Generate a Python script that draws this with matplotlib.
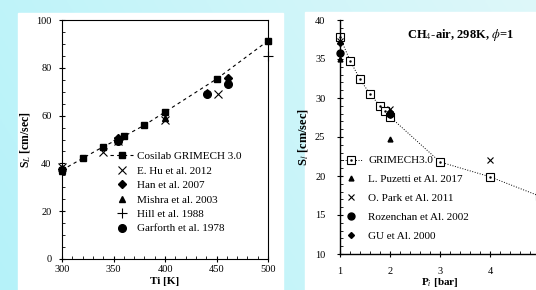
import numpy as np
import matplotlib.pyplot as plt
from matplotlib.patches import Rectangle
from matplotlib.legend_handler import HandlerTuple
from matplotlib.ticker import MultipleLocator

plt.rcParams['font.family'] = ['Liberation Serif', 'DejaVu Serif']
plt.rcParams['mathtext.fontset'] = 'stix'

# left panel: laminar flame speed vs initial temperature
t_sim = [300, 320, 340, 360, 380, 400, 450, 500]
sl_sim = [37.2, 42.1, 47.0, 51.3, 56.0, 61.5, 75.3, 91.3]
t_hu = [300, 340, 354, 400, 451]
sl_hu = [38.5, 44.8, 49.5, 58.3, 69.0]
t_han = [300, 354, 461]
sl_han = [37.5, 50.5, 75.9]
t_mishra = [300, 354, 400, 441]
sl_mishra = [37.0, 50.0, 59.0, 70.0]
t_hill = [354, 500]
sl_hill = [50.0, 84.8]
t_garforth = [354, 441, 461]
sl_garforth = [49.3, 69.0, 73.1]

# right panel: laminar flame speed vs initial pressure
p_sim = [1.0, 1.2, 1.4, 1.6, 1.8, 1.9, 2.0, 3.0, 4.0, 5.0]
s_sim = [37.8, 34.8, 32.4, 30.5, 29.0, 28.3, 27.6, 21.8, 19.9, 17.4]
p_puz = [1, 2]
s_puz = [35.0, 24.7]
p_park = [1, 2, 4]
s_park = [37.3, 28.6, 22.0]
p_roz = [1, 2]
s_roz = [35.8, 28.0]
p_gu = [1, 2]
s_gu = [37.0, 28.2]
p_ticks = [1, 2, 3, 4]

W, H = 536, 290
fig = plt.figure(figsize=(W / 100, H / 100), dpi=100)

# cyan gradient background
bg = fig.add_axes([0, 0, 1, 1], zorder=-10)
gx = np.linspace(0, 1, 200)
gy = np.linspace(0, 1, 100)
GX, GY = np.meshgrid(gx, gy)
c0 = np.array([0.71, 0.95, 0.98])
c1 = np.array([0.87, 0.97, 0.98])
mix = np.clip(0.75 * GX + 0.25 * (1 - GY), 0, 1)[..., None]
bg.imshow(c0 * (1 - mix) + c1 * mix, extent=[0, 1, 0, 1], aspect='auto', origin='upper')
bg.add_patch(Rectangle((18 / W, 0), (283 - 18) / W, (H - 13) / H, color='white', transform=bg.transAxes))
bg.add_patch(Rectangle((305 / W, 0), (W - 305) / W, (H - 12) / H, color='white', transform=bg.transAxes))
bg.set_xlim(0, 1)
bg.set_ylim(0, 1)
bg.axis('off')

# ---- left ----
ax1 = fig.add_axes([62 / W, 31 / H, 206 / W, 239 / H])
ax1.set_facecolor('white')
ax1.plot(t_sim, sl_sim, color='black', ls=(0, (3, 3)), lw=0.8, marker='s', ms=4,
         label='Cosilab GRIMECH 3.0', clip_on=False)
ax1.plot(t_hu, sl_hu, 'x', color='black', ms=6, mew=0.8, label='E. Hu et al. 2012', clip_on=False)
ax1.plot(t_han, sl_han, 'D', color='black', ms=4, label='Han et al. 2007', clip_on=False)
ax1.plot(t_mishra, sl_mishra, '^', color='black', ms=5, label='Mishra et al. 2003', clip_on=False)
ax1.plot(t_hill, sl_hill, '+', color='black', ms=7, mew=0.8, label='Hill et al. 1988', clip_on=False)
ax1.plot(t_garforth, sl_garforth, 'o', color='black', ms=5.5, label='Garforth et al. 1978',
         clip_on=False)
ax1.set_xlim(300, 500)
ax1.set_ylim(0, 100)
ax1.xaxis.set_major_locator(MultipleLocator(50))
ax1.xaxis.set_minor_locator(MultipleLocator(10))
ax1.yaxis.set_major_locator(MultipleLocator(20))
ax1.yaxis.set_minor_locator(MultipleLocator(5))
ax1.tick_params(which='major', direction='inout', length=5, width=0.8, labelsize=7.5, pad=2)
ax1.tick_params(which='minor', direction='in', length=2.5, width=0.6)
ax1.tick_params(axis='y', pad=5)
ax1.set_xlabel('Ti [K]', fontsize=8, fontweight='bold', labelpad=2)
ax1.set_ylabel('S$_L$ [cm/sec]', fontsize=8.5, fontweight='bold', labelpad=3)
for s in ax1.spines.values():
    s.set_linewidth(0.8)
ax1.legend(loc='upper left', bbox_to_anchor=(0.233, 0.45), frameon=False, fontsize=8,
           borderpad=0, borderaxespad=0, handlelength=2.1, handletextpad=0.35,
           labelspacing=0.42)

# ---- right ----
ax2 = fig.add_axes([340 / W, 36 / H, 200 / W, 234 / H])
ax2.set_facecolor('white')
l_sim, = ax2.plot(p_sim, s_sim, color='black', ls=':', lw=0.7, marker='s', ms=5.5,
                  mfc='white', mew=0.8, clip_on=False)
d_sim, = ax2.plot(p_sim, s_sim, '.', color='black', ms=1.5, clip_on=False)
h_puz, = ax2.plot(p_puz, s_puz, '^', color='black', ms=3.5, clip_on=False)
h_park, = ax2.plot(p_park, s_park, 'x', color='black', ms=4.5, mew=0.8, clip_on=False)
h_roz, = ax2.plot(p_roz, s_roz, 'o', color='black', ms=5, clip_on=False)
h_gu, = ax2.plot(p_gu, s_gu, 'D', color='black', ms=3, clip_on=False)
ax2.set_xlim(1, 5)
ax2.set_ylim(10, 40)
ax2.set_xticks(p_ticks)
ax2.xaxis.set_minor_locator(MultipleLocator(0.2))
ax2.yaxis.set_major_locator(MultipleLocator(5))
ax2.yaxis.set_minor_locator(MultipleLocator(1))
ax2.tick_params(which='major', direction='inout', length=5, width=0.8, labelsize=7.5)
ax2.tick_params(axis='x', pad=7)
ax2.tick_params(axis='y', pad=8)
ax2.tick_params(which='minor', direction='in', length=2.5, width=0.6)
ax2.spines['top'].set_visible(False)
ax2.spines['right'].set_visible(False)
for s in ('left', 'bottom'):
    ax2.spines[s].set_linewidth(1.0)
ax2.set_xlabel('P$_i$ [bar]', fontsize=8, fontweight='bold', labelpad=0)
ax2.set_ylabel('S$_l$ [cm/sec]', fontsize=9, fontweight='bold', labelpad=3)
ax2.text(2.34, 38.1, 'CH$_4$-air, 298K, $\\phi$=1', fontsize=9, fontweight='bold',
         va='center', ha='left')
ax2.legend([(l_sim, d_sim), h_puz, h_park, h_roz, h_gu],
           ['GRIMECH3.0', 'L. Puzetti et Al. 2017', 'O. Park et Al. 2011',
            'Rozenchan et Al. 2002', 'GU et Al. 2000'],
           handler_map={tuple: HandlerTuple(ndivide=1, pad=0)},
           loc='upper left', bbox_to_anchor=(0.0, 0.42), frameon=False, fontsize=8,
           borderpad=0, borderaxespad=0, handlelength=2.0, handletextpad=0.55,
           labelspacing=0.82)

fig.savefig('out.png', dpi=100)
